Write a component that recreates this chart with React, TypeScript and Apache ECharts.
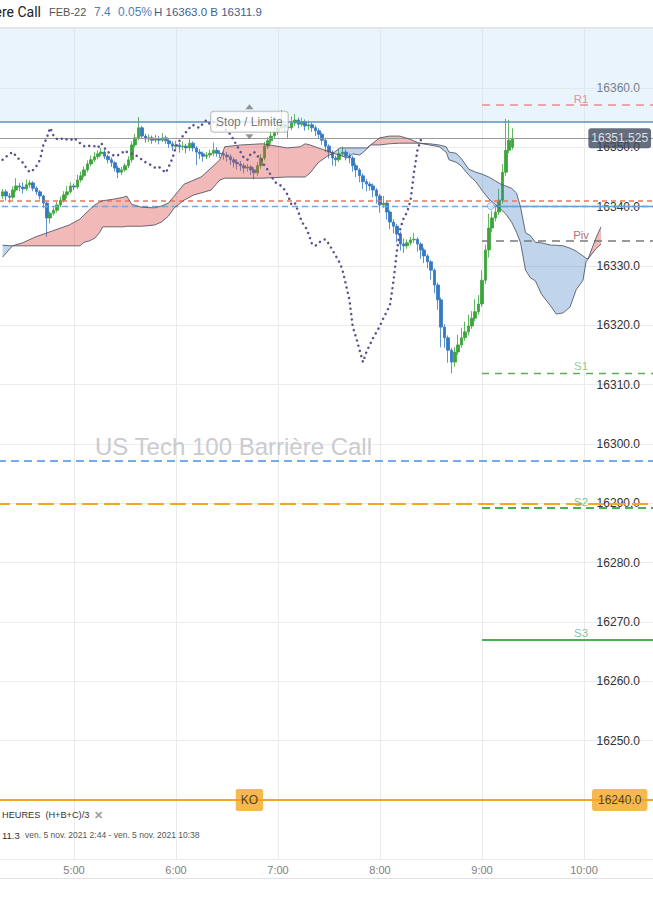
import React, { useEffect, useRef } from "react";
import * as echarts from "echarts";

// ---------- DATA ----------
const FONT = "'Liberation Sans', Arial, sans-serif";

// x axis in minutes since midnight
const xMin = 240;
const xMax = 660;
const xStep = 60;
const yMin = 16230;
const yMax = 16370;
const yStep = 10;

const candleStart = 258; // 4:18, 2-minute candles
const candleStep = 2;

// [open, close, low, high]
const candles: number[][] = [
  [16341.8, 16342.5, 16341.3, 16343.0], [16342.5, 16341.8, 16341.0, 16342.9], [16341.8, 16341.6, 16340.6, 16342.3],
  [16341.6, 16342.8, 16341.2, 16343.4], [16342.8, 16343.5, 16342.5, 16344.8], [16343.5, 16343.3, 16342.6, 16344.0],
  [16343.3, 16343.0, 16342.2, 16344.1], [16343.0, 16343.7, 16342.7, 16344.6], [16343.7, 16344.0, 16343.2, 16344.5],
  [16344.0, 16343.1, 16342.6, 16344.3], [16343.1, 16342.5, 16342.0, 16343.4], [16342.5, 16341.8, 16341.2, 16342.8],
  [16341.8, 16340.6, 16339.7, 16342.0], [16340.6, 16338.1, 16334.9, 16340.9], [16338.1, 16338.9, 16337.2, 16339.2],
  [16338.9, 16339.4, 16338.5, 16339.9], [16339.4, 16340.3, 16339.0, 16340.8], [16340.3, 16341.1, 16339.9, 16341.7],
  [16341.1, 16342.0, 16340.7, 16342.6], [16342.0, 16342.5, 16341.4, 16343.5], [16342.5, 16343.5, 16342.2, 16344.1],
  [16343.5, 16343.3, 16342.8, 16343.9], [16343.3, 16344.5, 16343.0, 16345.4], [16344.5, 16345.2, 16344.1, 16345.9],
  [16345.2, 16346.2, 16344.9, 16346.8], [16346.2, 16347.2, 16345.8, 16347.8], [16347.2, 16347.9, 16346.8, 16348.6],
  [16347.9, 16348.4, 16347.5, 16349.2], [16348.4, 16348.9, 16348.0, 16349.5], [16348.9, 16349.2, 16348.5, 16349.9],
  [16349.2, 16348.5, 16348.0, 16349.6], [16348.5, 16347.9, 16347.3, 16348.8], [16347.9, 16347.4, 16346.7, 16348.3],
  [16347.4, 16346.5, 16345.9, 16347.7], [16346.5, 16345.8, 16344.8, 16346.9], [16345.8, 16346.2, 16345.3, 16346.7],
  [16346.2, 16346.9, 16345.9, 16347.3], [16346.9, 16347.9, 16346.5, 16348.5], [16347.9, 16350.4, 16347.4, 16351.0],
  [16350.4, 16351.6, 16350.0, 16352.3], [16351.6, 16353.3, 16351.2, 16355.1], [16353.3, 16351.9, 16351.4, 16353.6],
  [16351.9, 16351.4, 16350.8, 16352.3], [16351.4, 16351.6, 16350.9, 16352.2], [16351.6, 16351.2, 16350.6, 16352.0],
  [16351.2, 16351.4, 16350.8, 16352.1], [16351.4, 16351.2, 16350.5, 16351.9], [16351.2, 16351.6, 16350.9, 16352.4],
  [16351.6, 16351.1, 16350.6, 16352.0], [16351.1, 16350.6, 16349.9, 16351.4], [16350.6, 16350.2, 16349.4, 16351.0],
  [16350.2, 16350.4, 16349.6, 16351.1], [16350.4, 16350.1, 16349.1, 16350.8], [16350.1, 16350.2, 16349.5, 16351.0],
  [16350.2, 16349.9, 16349.0, 16350.6], [16349.9, 16350.7, 16349.4, 16351.6], [16350.7, 16349.9, 16349.3, 16351.0],
  [16349.9, 16349.2, 16347.0, 16350.2], [16349.2, 16348.9, 16348.0, 16349.7], [16348.9, 16348.5, 16347.6, 16349.3],
  [16348.5, 16348.7, 16348.0, 16349.2], [16348.7, 16349.0, 16348.2, 16349.6], [16349.0, 16349.5, 16348.5, 16350.8],
  [16349.5, 16349.0, 16348.4, 16350.0], [16349.0, 16348.9, 16348.2, 16349.5], [16348.9, 16348.7, 16347.9, 16349.3],
  [16348.7, 16348.4, 16347.6, 16349.2], [16348.4, 16347.9, 16347.0, 16348.8], [16347.9, 16347.5, 16346.6, 16348.3],
  [16347.5, 16347.2, 16346.3, 16348.0], [16347.2, 16346.9, 16346.0, 16347.7], [16346.9, 16346.5, 16345.6, 16347.3],
  [16346.5, 16346.7, 16345.9, 16347.2], [16346.7, 16346.2, 16345.3, 16347.0], [16346.2, 16345.7, 16344.6, 16346.6],
  [16345.7, 16346.9, 16345.2, 16347.5], [16346.9, 16348.2, 16346.4, 16348.9], [16348.2, 16350.2, 16347.8, 16350.9],
  [16350.2, 16351.1, 16349.7, 16351.7], [16351.1, 16351.9, 16350.6, 16352.6], [16351.9, 16352.6, 16351.4, 16353.4],
  [16352.6, 16353.3, 16352.1, 16354.4], [16353.3, 16353.8, 16352.9, 16356.3], [16353.8, 16353.4, 16352.5, 16354.3],
  [16353.4, 16353.3, 16351.6, 16354.0], [16353.3, 16354.1, 16352.9, 16355.2], [16354.1, 16354.6, 16353.6, 16355.6],
  [16354.6, 16353.9, 16353.2, 16355.0], [16353.9, 16354.3, 16353.5, 16355.0], [16354.3, 16353.6, 16352.8, 16354.7],
  [16353.6, 16353.8, 16352.9, 16354.5], [16353.8, 16353.3, 16352.6, 16354.2], [16353.3, 16352.8, 16351.9, 16353.7],
  [16352.8, 16352.2, 16351.4, 16353.2], [16352.2, 16351.2, 16350.4, 16352.5], [16351.2, 16350.2, 16349.2, 16351.6],
  [16350.2, 16349.2, 16348.1, 16350.5], [16349.2, 16348.2, 16346.9, 16349.5], [16348.2, 16347.9, 16346.8, 16348.6],
  [16347.9, 16348.9, 16347.5, 16349.8], [16348.9, 16349.2, 16348.4, 16350.1], [16349.2, 16348.5, 16347.8, 16349.6],
  [16348.5, 16348.2, 16347.3, 16349.0], [16348.2, 16346.9, 16345.9, 16348.6], [16346.9, 16346.2, 16345.0, 16347.3],
  [16346.2, 16345.2, 16344.1, 16346.5], [16345.2, 16344.2, 16343.0, 16345.6], [16344.2, 16343.8, 16342.6, 16344.7],
  [16343.8, 16343.5, 16342.7, 16344.2], [16343.5, 16342.8, 16341.6, 16343.9], [16342.8, 16341.8, 16340.5, 16343.1],
  [16341.8, 16340.3, 16339.0, 16342.2], [16340.3, 16340.6, 16339.8, 16341.8], [16340.6, 16339.1, 16337.8, 16340.9],
  [16339.1, 16337.4, 16336.2, 16339.4], [16337.4, 16336.7, 16335.5, 16337.9], [16336.7, 16335.4, 16334.0, 16337.1],
  [16335.4, 16333.7, 16332.6, 16335.8], [16333.7, 16333.4, 16332.2, 16334.6], [16333.4, 16333.9, 16332.9, 16334.5],
  [16333.9, 16334.4, 16333.5, 16334.9], [16334.4, 16334.5, 16333.9, 16335.6], [16334.5, 16333.7, 16332.4, 16334.8],
  [16333.7, 16332.7, 16331.2, 16334.0], [16332.7, 16331.7, 16330.5, 16333.1], [16331.7, 16330.7, 16329.6, 16332.0],
  [16330.7, 16329.3, 16327.7, 16331.0], [16329.3, 16326.8, 16325.4, 16329.6], [16326.8, 16324.3, 16322.6, 16327.2],
  [16324.3, 16319.7, 16316.3, 16324.7], [16319.7, 16317.9, 16316.2, 16320.2], [16317.9, 16315.8, 16313.7, 16318.3],
  [16315.8, 16313.8, 16311.9, 16316.2], [16313.8, 16315.5, 16313.0, 16316.3], [16315.5, 16316.7, 16315.0, 16318.4],
  [16316.7, 16317.9, 16316.2, 16319.6], [16317.9, 16318.9, 16317.4, 16320.6], [16318.9, 16319.9, 16318.3, 16321.8],
  [16319.9, 16321.2, 16319.4, 16322.4], [16321.2, 16322.3, 16320.7, 16324.4], [16322.3, 16323.6, 16321.8, 16325.1],
  [16323.6, 16327.6, 16323.1, 16329.3], [16327.6, 16332.7, 16327.0, 16333.6], [16332.7, 16336.4, 16331.4, 16338.8],
  [16336.4, 16338.1, 16335.7, 16339.3], [16338.1, 16339.1, 16337.5, 16340.2], [16339.1, 16341.1, 16338.6, 16343.0],
  [16341.1, 16345.8, 16340.5, 16347.2], [16345.8, 16349.5, 16345.2, 16354.8], [16349.5, 16351.2, 16349.0, 16354.6],
  [16350.0, 16351.525, 16349.6, 16353.2],
];

const chikouShift = 26; // periods

// Ichimoku cloud (leading spans), time in minutes
const cloudTime = [
  258.0, 263.8, 269.7, 277.3, 287.2, 297.1, 303.5, 305.9, 308.8, 312.3, 315.2, 316.9, 324.0, 329.2, 331.0, 333.9,
  339.7, 347.3, 351.4, 355.5, 359.0, 364.8, 370.6, 374.7, 380.6, 385.8, 388.7, 398.1, 410.9, 425.5, 433.1, 436.0,
  438.9, 443.6, 448.9, 452.4, 456.4, 460.5, 464.0, 468.1, 472.2, 474.5, 479.8, 485.6, 491.5, 497.3, 503.1, 509.0,
  514.8, 518.9, 520.6, 524.7, 527.6, 532.3, 536.4, 539.9, 544.0, 548.1, 551.6, 553.9, 557.4, 560.3, 562.7, 565.6,
  568.5, 571.4, 574.9, 580.8, 583.7, 587.8, 591.8, 595.4, 599.4, 601.2, 602.4, 607.0, 610.0,
];
const senkouA = [
  16331.5, 16333.4, 16333.9, 16334.9, 16335.9, 16336.9, 16337.9, 16338.6, 16339.4, 16340.3, 16340.8, 16341.0,
  16341.3, 16341.6, 16341.8, 16340.4, 16339.9, 16339.8, 16340.1, 16340.6, 16341.8, 16343.8, 16344.5, 16345.0,
  16346.5, 16347.9, 16350.1, 16350.4, 16350.6, 16349.9, 16350.1, 16350.6, 16350.4, 16349.9, 16349.4, 16349.0,
  16348.7, 16348.2, 16348.9, 16348.7, 16349.7, 16350.4, 16351.6, 16351.9, 16351.9, 16351.4, 16350.7, 16350.4,
  16350.1, 16349.2, 16347.9, 16347.5, 16346.9, 16345.3, 16344.2, 16342.8, 16341.3, 16340.3, 16339.4, 16338.8,
  16337.4, 16335.7, 16333.9, 16329.3, 16328.0, 16327.5, 16325.3, 16323.1, 16321.9, 16322.1, 16323.1, 16326.0,
  16327.6, 16330.7, 16331.2, 16334.7, 16336.6,
];
const senkouB = [
  16333.5, 16333.4, 16333.4, 16333.4, 16333.4, 16333.4, 16333.4, 16334.0, 16334.2, 16334.7, 16335.7, 16336.6,
  16336.6, 16336.6, 16336.7, 16336.7, 16336.7, 16336.9, 16337.4, 16338.4, 16339.8, 16341.1, 16342.0, 16342.3,
  16342.8, 16344.5, 16344.8, 16344.8, 16344.8, 16345.0, 16345.0, 16345.0, 16345.7, 16347.4, 16348.5, 16349.0,
  16349.9, 16349.9, 16349.9, 16349.9, 16349.9, 16350.4, 16350.4, 16350.6, 16350.7, 16350.7, 16350.7, 16350.6,
  16350.4, 16350.1, 16349.2, 16349.0, 16348.2, 16346.3, 16345.8, 16345.5, 16345.0, 16344.3, 16343.7, 16343.5,
  16343.1, 16342.3, 16339.9, 16335.6, 16335.1, 16334.0, 16333.9, 16333.5, 16333.5, 16333.4, 16333.0, 16332.5,
  16331.7, 16331.3, 16331.2, 16332.9, 16333.7,
];

// Pivot levels (drawn from 9:00)
const pivotNames = ["R1", "Piv", "S1", "S2", "S3"];
const pivotValues = [16357.1, 16334.2, 16312.0, 16289.2, 16267.0];
const pivotStart = 540;
const pivotLabelTime = 598.3;

// Other horizontal levels
const stopLimit = 16354.3;
const lastPrice = 16351.525;
const orderLevel = 16341.0;
const entryLevel = 16340.1;
const entryTime = 545.2;
const blueLevel = 16297.1;
const orangeLevel = 16290.0;
const koLevel = 16240.0;
const tagTime = 403.2; // Stop / Limite, KO tags
const axisTagTime = 621.0;

// Layout: the chart canvas is shifted left so that the hour grid lines fall where they do
const OX = 31; // canvas offset (px) to the left of the page
const CW = 720; // canvas width

// ---------- OPTION ----------
function buildOption(): any {
  const candleData = candles.map((r, i) => [candleStart + candleStep * i, r[0], r[1], r[2], r[3]]);
  const chikouData = candles.slice(chikouShift).map((r, i) => [candleStart + candleStep * i, r[1]]);
  const lineA = cloudTime.map((t, i) => [t, senkouA[i]]);
  const lineB = cloudTime.map((t, i) => [t, senkouB[i]]);

  const pink = "rgba(222,70,70,0.38)";
  const blue = "rgba(60,125,195,0.32)";

  const pivotStyles = [
    { color: "#ee8a8a", type: [8, 6], width: 1.5 },
    { color: "#7a7a7a", type: [8, 6], width: 1.5 },
    { color: "#5cae5c", type: [7, 6], width: 1.3 },
    { color: "#4caf50", type: [8, 5], width: 2 },
    { color: "#4caf50", type: "solid", width: 2 },
  ];
  const pivotLabelColors = ["#e07878", "#a04848", "#74c074", "#6aaa6a", "#5cb38a"];

  const markLines: any[] = [
    { yAxis: stopLimit, lineStyle: { color: "#5b8fc9", width: 1.5, type: "solid" } },
    { yAxis: lastPrice, lineStyle: { color: "#9a9a9a", width: 1, type: "solid" } },
    { yAxis: orderLevel, lineStyle: { color: "#f07550", width: 1.5, type: [5, 4] } },
    { yAxis: entryLevel, lineStyle: { color: "#74a6dc", width: 1.3, type: [6, 4] } },
    [
      { coord: [entryTime, entryLevel], lineStyle: { color: "#6a9fd6", width: 1.3, type: "solid" } },
      { coord: [xMax, entryLevel] },
    ],
    { yAxis: blueLevel, lineStyle: { color: "#4a90e2", width: 1.6, type: [8, 5] } },
    { yAxis: orangeLevel, lineStyle: { color: "#f5a623", width: 2.2, type: [16, 6] } },
    { yAxis: koLevel, lineStyle: { color: "#f5a623", width: 2, type: "solid" } },
  ];
  pivotValues.forEach((v, i) => {
    markLines.push([
      { coord: [pivotStart, v], lineStyle: pivotStyles[i] },
      { coord: [xMax, v] },
    ]);
  });

  const cloudSeries = {
    type: "custom",
    z: 4,
    silent: true,
    clip: true,
    data: [[cloudTime[0], senkouA[0]]],
    encode: { x: 0, y: 1 },
    renderItem: (params: any, api: any) => {
      const P = (t: number, v: number) => api.coord([t, v]);
      const n = cloudTime.length;
      const children: any[] = [];
      let ptsA: any[] = [P(cloudTime[0], senkouA[0])];
      let ptsB: any[] = [P(cloudTime[0], senkouB[0])];
      let sum = senkouA[0] - senkouB[0];
      const flush = () => {
        if (ptsA.length > 1) {
          children.push({
            type: "polygon",
            shape: { points: ptsA.concat(ptsB.slice().reverse()) },
            style: { fill: sum >= 0 ? pink : blue },
          });
        }
      };
      for (let i = 0; i < n - 1; i++) {
        const d0 = senkouA[i] - senkouB[i];
        const d1 = senkouA[i + 1] - senkouB[i + 1];
        if (d0 * d1 < 0) {
          const f = d0 / (d0 - d1);
          const tc = cloudTime[i] + f * (cloudTime[i + 1] - cloudTime[i]);
          const vc = senkouA[i] + f * (senkouA[i + 1] - senkouA[i]);
          const c = P(tc, vc);
          ptsA.push(c);
          ptsB.push(c);
          flush();
          ptsA = [c];
          ptsB = [c];
          sum = 0;
        }
        ptsA.push(P(cloudTime[i + 1], senkouA[i + 1]));
        ptsB.push(P(cloudTime[i + 1], senkouB[i + 1]));
        sum += d1;
        if (d1 === 0 && i + 1 < n - 1) {
          flush();
          ptsA = [ptsA[ptsA.length - 1]];
          ptsB = [ptsB[ptsB.length - 1]];
          sum = 0;
        }
      }
      flush();
      return { type: "group", children };
    },
  };

  const tagLabels = [
    {
      value: [tagTime, stopLimit],
      label: {
        formatter: "Stop / Limite", color: "#555", fontSize: 12, backgroundColor: "#fff",
        borderColor: "#b0b0b0", borderWidth: 1, borderRadius: 3, padding: [4, 5],
      },
    },
    {
      value: [tagTime, koLevel],
      label: {
        formatter: "KO", color: "#222", fontSize: 12, backgroundColor: "#f5a623",
        borderRadius: 2, padding: [5, 5],
      },
    },
    {
      value: [axisTagTime, koLevel],
      label: {
        formatter: "16240.0", color: "#222", fontSize: 12, backgroundColor: "#f5a623",
        borderRadius: 3, padding: [5, 6],
      },
    },
    {
      value: [axisTagTime, lastPrice],
      label: {
        formatter: "16351.525", color: "#fff", fontSize: 12, backgroundColor: "#3e4a5c",
        borderRadius: 3, padding: [4, 3],
      },
    },
  ];

  const gx = (x: number) => x + OX; // page x -> canvas x

  return {
    animation: false,
    backgroundColor: "#fff",
    textStyle: { fontFamily: FONT },
    grid: { left: 0.16, right: 0.2, top: 28.67, bottom: 44.67 },
    xAxis: {
      type: "value",
      min: xMin,
      max: xMax,
      interval: xStep,
      axisLine: { show: false },
      axisTick: { show: false },
      splitLine: { show: true, lineStyle: { color: "#ebebeb", width: 1 } },
      axisLabel: {
        color: "#808080",
        fontSize: 11,
        margin: 5,
        fontFamily: FONT,
        formatter: (v: number) => (v > xMin && v < xMax ? `${v / 60}:00` : ""),
      },
    },
    yAxis: {
      type: "value",
      position: "right",
      min: yMin,
      max: yMax,
      interval: yStep,
      axisLine: { show: false },
      axisTick: { show: false },
      splitLine: { show: true, lineStyle: { color: "#ebebeb", width: 1 } },
      axisLabel: {
        inside: true,
        margin: 46,
        color: "#333",
        fontSize: 12,
        fontFamily: FONT,
        formatter: (v: number) => (v > yMin && v < yMax && v !== koLevel ? v.toFixed(1) : ""),
      },
    },
    series: [
      {
        type: "line",
        name: "levels",
        z: 1,
        silent: true,
        data: [],
        markArea: {
          silent: true,
          itemStyle: { color: "rgba(205,228,250,0.42)" },
          data: [[{ yAxis: stopLimit }, { yAxis: yMax }]],
        },
        markLine: {
          silent: true,
          symbol: ["none", "none"],
          label: { show: false },
          data: markLines,
        },
      },
      {
        type: "candlestick",
        z: 3,
        barWidth: 3.2,
        encode: { x: 0, y: [1, 2, 3, 4] },
        itemStyle: {
          color: "#3ca43a",
          color0: "#3579c0",
          borderColor: "#3ca43a",
          borderColor0: "#3579c0",
          borderWidth: 0.8,
        },
        data: candleData,
      },
      cloudSeries,
      {
        type: "line",
        z: 5,
        silent: true,
        showSymbol: false,
        data: lineA,
        lineStyle: { color: "#4d5262", width: 1, opacity: 0.85 },
      },
      {
        type: "line",
        z: 5,
        silent: true,
        showSymbol: false,
        data: lineB,
        lineStyle: { color: "#4d5262", width: 1, opacity: 0.85 },
      },
      {
        type: "line",
        z: 6,
        silent: true,
        showSymbol: false,
        data: chikouData,
        lineStyle: { color: "#5e4f8f", width: 2.5, type: [0.01, 5.4], cap: "round" },
      },
      {
        type: "scatter",
        z: 7,
        silent: true,
        symbol: "circle",
        symbolSize: 7,
        itemStyle: { color: "#d6e5f4", borderColor: "#7fa8d8", borderWidth: 1 },
        data: [[entryTime, entryLevel]],
      },
      {
        type: "scatter",
        z: 9,
        silent: true,
        symbolSize: 1,
        itemStyle: { color: "rgba(0,0,0,0)" },
        label: { show: true, position: "top", distance: 0, fontSize: 11.5, fontFamily: FONT },
        data: pivotNames.map((name, i) => ({
          value: [pivotLabelTime, pivotValues[i]],
          label: { formatter: name, color: pivotLabelColors[i] },
        })),
      },
      {
        type: "scatter",
        z: 10,
        silent: true,
        symbolSize: 1,
        itemStyle: { color: "rgba(0,0,0,0)" },
        label: { show: true, position: "inside", fontFamily: FONT },
        data: tagLabels,
      },
      {
        type: "scatter",
        z: 10,
        silent: true,
        symbol: "triangle",
        symbolSize: [8, 5],
        itemStyle: { color: "#7a7a7a" },
        data: [
          { value: [tagTime, stopLimit], symbolOffset: [0, -15] },
          { value: [tagTime, stopLimit], symbolOffset: [0, 15], symbolRotate: 180 },
        ],
      },
    ],
    graphic: [
      { type: "line", silent: true, z: 20, shape: { x1: gx(0), y1: 27.5, x2: gx(653), y2: 27.5 }, style: { stroke: "#dfe3e8", lineWidth: 1 } },
      { type: "line", silent: true, z: 20, shape: { x1: gx(0), y1: 878.5, x2: gx(653), y2: 878.5 }, style: { stroke: "#dfe3e8", lineWidth: 1 } },
      { type: "text", silent: true, z: 20, x: gx(41), y: 12, style: { text: "US Tech 100 Barrière Call", textAlign: "right", textVerticalAlign: "middle", font: "14px Roboto, sans-serif", fill: "#222" } },
      { type: "text", silent: true, z: 20, x: gx(49), y: 12, style: { text: "FEB-22", textVerticalAlign: "middle", font: `11px ${FONT}`, fill: "#555" } },
      { type: "text", silent: true, z: 20, x: gx(94), y: 12, style: { text: "7.4", textVerticalAlign: "middle", font: `12px ${FONT}`, fill: "#4f7fb8" } },
      { type: "text", silent: true, z: 20, x: gx(118), y: 12, style: { text: "0.05%", textVerticalAlign: "middle", font: `12px ${FONT}`, fill: "#4f7fb8" } },
      { type: "text", silent: true, z: 20, x: gx(154), y: 12, style: { text: "H 16363.0 B 16311.9", textVerticalAlign: "middle", font: `11.5px ${FONT}`, fill: "#41618c" } },
      { type: "text", silent: true, z: 2, x: gx(95), y: 446, style: { text: "US Tech 100 Barrière Call", textVerticalAlign: "middle", font: `24px ${FONT}`, fill: "#c9cbcf" } },
      { type: "text", silent: true, z: 20, x: gx(2), y: 815, style: { text: "HEURES  (H+B+C)/3", textVerticalAlign: "middle", font: `9.2px ${FONT}`, fill: "#333" } },
      { type: "text", silent: true, z: 20, x: gx(94), y: 815, style: { text: "✕", textVerticalAlign: "middle", font: `bold 11px ${FONT}`, fill: "#a0a0a0" } },
      { type: "text", silent: true, z: 20, x: gx(2), y: 835, style: { text: "11.3", textVerticalAlign: "middle", font: `9.5px ${FONT}`, fill: "#333" } },
      { type: "text", silent: true, z: 20, x: gx(25), y: 835, style: { text: "ven. 5 nov. 2021 2:44 - ven. 5 nov. 2021 10:38", textVerticalAlign: "middle", font: `8.5px ${FONT}`, fill: "#555" } },
    ],
  };
}

export default function App() {
  const ref = useRef<HTMLDivElement>(null);
  useEffect(() => {
    const chart = echarts.init(ref.current!, null, { renderer: "svg" });
    chart.setOption(buildOption());
    return () => chart.dispose();
  }, []);
  return (
    <div style={{ position: "fixed", left: 0, top: 0, width: 653, height: 904, overflow: "hidden", background: "#fff" }}>
      <div ref={ref} style={{ position: "absolute", left: -OX, top: 0, width: CW, height: 904 }} />
    </div>
  );
}
